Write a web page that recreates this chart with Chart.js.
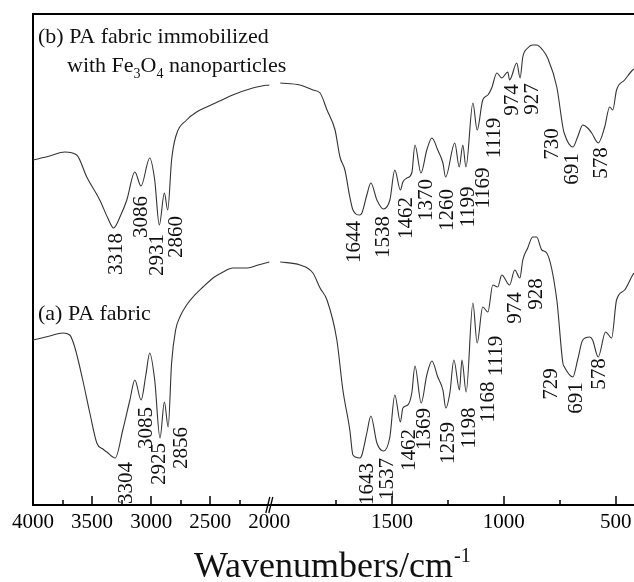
<!DOCTYPE html>
<html>
<head>
<meta charset="utf-8">
<script src="https://cdn.jsdelivr.net/npm/chart.js@4.4.0/dist/chart.umd.min.js"></script>
<style>
  html, body { margin: 0; padding: 0; background: #fff; overflow: hidden; }
</style>
</head>
<body>
<canvas id="ftir" width="634" height="582"></canvas>
<script>
// (b) PA fabric immobilized with Fe3O4 - wavenumber (cm-1) / transmittance (a.u.)
var waveB = [4000,3858,3731,3630,3545,3435,3367,3318,3257,3206,3138,3086,3012,2970,2931,2888,2860,2827,2793,2700,
  2615,2530,2420,2310,2140,2063,2000,1999.5,1999,1911,1853,1821,1790,1754,1732,1710,1688,1674,1644,1634,
  1612,1594,1567,1538,1509,1487,1462,1451,1433,1411,1397,1370,1344,1321,1295,1272,1260,1219,1199,1183,
  1169,1138,1119,1094,1071,1054,1031,1009,982,974,942,927,915,893,871,853,826,804,763,736,
  730,691,670,647,625,607,578,549,527,513,496,460,424,418];
var transB = [345,349,353,350,328,305,287,277,290,305,333,319,347,325,280,312,295,345,368,385,
  393,398,404,410,417,419,420,null,422,420,415,412,395,375,348,335,308,295,290,292,
  310,322,305,296,305,335,315,323,327,332,360,332,355,367,355,342,328,362,338,360,
  338,402,375,405,410,417,432,427,433,425,442,427,448,457,460,460,455,447,418,378,
  372,358,368,380,377,372,362,378,398,395,415,425,435,436];

// (a) PA fabric
var waveA = [4000,3858,3748,3689,3647,3579,3519,3460,3409,3375,3304,3240,3180,3138,3085,3045,3012,2970,2925,2888,
  2856,2827,2793,2757,2700,2646,2561,2476,2391,2310,2183,2096,2000,1999.5,1999,1911,1853,1821,1790,1746,
  1719,1688,1674,1643,1634,1612,1594,1567,1537,1509,1487,1462,1451,1429,1411,1397,1369,1344,1321,1295,
  1272,1259,1241,1223,1198,1187,1168,1138,1119,1094,1071,1049,1027,1009,974,951,928,915,893,871,
  853,830,808,763,736,729,691,670,647,616,603,578,545,518,496,460,424,418];
var transA = [165,169,172,170,158,125,92,62,56,53,47,75,105,125,105,130,152,125,67,103,
  78,142,175,188,200,208,218,227,233,237,237,240,243,null,243,240,232,217,205,165,
  115,75,50,47,50,72,89,62,54,68,110,83,97,100,112,139,102,130,144,128,
  115,97,112,145,115,145,113,202,162,198,193,220,218,230,220,235,227,245,257,268,
  268,255,252,205,142,138,128,145,165,168,165,148,173,167,205,215,230,232];

// peak labels: text, wavenumber, transmittance of the label centre
var peakTextB = ['3318','3086','2931','2860','1644','1538','1462','1370','1260','1199','1169','1119','974','927','730','691','578'];
var peakXB = [3291,3078,2943,2782,1665,1536,1433,1344,1250,1156,1089,1040,960,871,781,692,562];
var peakYB = [251,288,250,268,263,268,287,305,295,298,317,367,405,406,361,336,342];

var peakTextA = ['3304','3085','2925','2856','1643','1537','1462','1369','1259','1198','1168','1119','974','928','729','691','578'];
var peakXA = [3205,3036,2926,2740,1607,1518,1420,1353,1246,1152,1067,1031,946,853,786,674,571];
var peakYA = [22,77,41,57,21,26,55,76,62,77,103,149,197,211,121,107,131];

var tickValues = [4000,3750,3500,3250,3000,2750,2500,2250,2000,1750,1500,1250,1000,750,500];

// broken axis: 4000-2000 squeezed on the left, 2000-418 wider on the right
var BREAK_AT = 2000, LEFT_END = 0.3932, RIGHT_START = 0.411;

class BrokenScale extends Chart.LinearScale {
  getPixelForValue(v) {
    if (v >= BREAK_AT) {
      return this.left + (this.max - v) / (this.max - BREAK_AT) * LEFT_END * this.width;
    }
    return this.left + (RIGHT_START + (BREAK_AT - v) / (BREAK_AT - this.min) * (1 - RIGHT_START)) * this.width;
  }
  getValueForPixel(p) {
    var f = (p - this.left) / this.width;
    if (f <= LEFT_END) return this.max - f / LEFT_END * (this.max - BREAK_AT);
    return BREAK_AT - (f - RIGHT_START) / (1 - RIGHT_START) * (BREAK_AT - this.min);
  }
}
BrokenScale.id = 'broken';
BrokenScale.defaults = Chart.LinearScale.defaults;
Chart.register(BrokenScale);

function pts(xs, ys) {
  return xs.map(function (x, i) { return { x: x, y: ys[i] }; });
}

var serif = '"Liberation Serif", "Times New Roman", serif';

var decor = {
  id: 'decor',
  afterDraw: function (chart) {
    var ctx = chart.ctx, a = chart.chartArea, x = chart.scales.x, y = chart.scales.y;
    ctx.save();
    ctx.strokeStyle = '#000';
    ctx.lineWidth = 2;
    ctx.beginPath();
    ctx.moveTo(a.left - 1, a.top);
    ctx.lineTo(a.right, a.top);
    ctx.stroke();

    // inward tick marks
    ctx.lineWidth = 1.5;
    tickValues.forEach(function (v) {
      if (v === BREAK_AT) return;
      var px = Math.round(x.getPixelForValue(v));
      var len = v % 500 === 0 ? 9 : 5;
      ctx.beginPath();
      ctx.moveTo(px, a.bottom);
      ctx.lineTo(px, a.bottom - len);
      ctx.stroke();
    });

    // break mark
    var bx = x.getPixelForValue(BREAK_AT);
    ctx.lineWidth = 1.3;
    [-1.5, 1.5].forEach(function (d) {
      ctx.beginPath();
      ctx.moveTo(bx + d - 2, a.bottom + 8);
      ctx.lineTo(bx + d + 2, a.bottom - 8);
      ctx.stroke();
    });

    // peak labels
    ctx.fillStyle = '#111';
    ctx.font = '21px ' + serif;
    ctx.textAlign = 'center';
    ctx.textBaseline = 'middle';
    function put(t, wx, ty) {
      ctx.save();
      ctx.translate(x.getPixelForValue(wx), y.getPixelForValue(ty));
      ctx.rotate(-Math.PI / 2);
      ctx.fillText(t, 0, 0);
      ctx.restore();
    }
    peakTextB.forEach(function (t, i) { put(t, peakXB[i], peakYB[i]); });
    peakTextA.forEach(function (t, i) { put(t, peakXA[i], peakYA[i]); });

    // sample names
    ctx.textAlign = 'left';
    ctx.textBaseline = 'alphabetic';
    ctx.font = '22px ' + serif;
    ctx.fillText('(b) PA fabric immobilized', a.left + 5, a.top + 29);
    var cx = a.left + 34, cy = a.top + 58;
    var parts = [['with Fe', 0, 22], ['3', 6, 14], ['O', 0, 22], ['4', 6, 14], [' nanoparticles', 0, 22]];
    parts.forEach(function (p) {
      ctx.font = p[2] + 'px ' + serif;
      ctx.fillText(p[0], cx, cy + p[1]);
      cx += ctx.measureText(p[0]).width;
    });
    ctx.font = '22px ' + serif;
    ctx.fillText('(a) PA fabric', a.left + 5, a.top + 306);

    // axis title with superscript
    ctx.font = '36px ' + serif;
    var title = 'Wavenumbers/cm';
    var tx = 194, ty = 577;
    ctx.fillText(title, tx, ty);
    var tw = ctx.measureText(title).width;
    ctx.font = '20px ' + serif;
    ctx.fillText('-1', tx + tw + 1, ty - 15);
    ctx.restore();
  }
};

new Chart(document.getElementById('ftir'), {
  type: 'line',
  data: {
    datasets: [
      { label: '(b) PA fabric immobilized with Fe3O4', data: pts(waveB, transB) },
      { label: '(a) PA fabric', data: pts(waveA, transA) }
    ]
  },
  options: {
    responsive: false,
    animation: false,
    events: [],
    spanGaps: false,
    layout: { padding: { top: 14, left: 0, right: 0, bottom: 0 } },
    elements: {
      point: { radius: 0 },
      line: { borderColor: '#333', borderWidth: 1.1, cubicInterpolationMode: 'monotone', fill: false }
    },
    plugins: { legend: { display: false }, tooltip: { enabled: false } },
    scales: {
      x: {
        type: 'broken',
        min: 418,
        max: 4000,
        afterBuildTicks: function (s) {
          s.ticks = tickValues.map(function (v) { return { value: v }; });
        },
        afterFit: function (s) {
          s.height = 77;
          s.paddingLeft = 0;
          s.paddingRight = 0;
        },
        grid: { display: false, drawTicks: false },
        border: { display: true, color: '#000', width: 2 },
        ticks: {
          autoSkip: false,
          maxRotation: 0,
          padding: 5,
          color: '#000',
          font: { family: serif, size: 21 },
          callback: function (v) { return v % 500 === 0 ? String(v) : ''; }
        }
      },
      y: {
        type: 'linear',
        min: 0,
        max: 491,
        afterFit: function (s) { s.width = 33; },
        grid: { display: false, drawTicks: false },
        border: { display: true, color: '#000', width: 2 },
        ticks: { display: false }
      }
    }
  },
  plugins: [decor]
});
</script>
</body>
</html>
